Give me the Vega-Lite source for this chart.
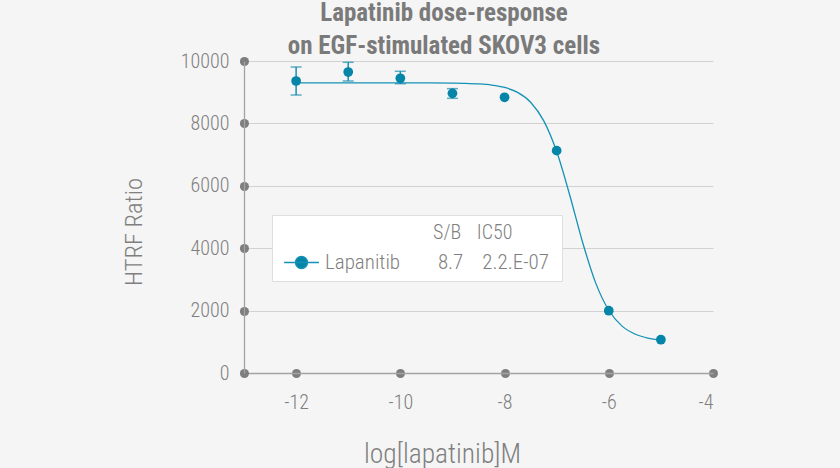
{
  "$schema": "https://vega.github.io/schema/vega-lite/v6.json",
  "autosize": {"type": "none"},
  "padding": {"left": 244, "top": 61, "right": 127, "bottom": 95},
  "width": 469,
  "height": 312,
  "background": "#f5f5f5",
  "config": {
    "view": {"stroke": null},
    "font": "Roboto Condensed",
    "axis": {
      "labelFont": "Roboto Condensed",
      "labelFontSize": 20,
      "labelFontWeight": 300,
      "labelColor": "#7f7f7f",
      "titleFont": "Roboto Condensed",
      "titleFontSize": 20,
      "titleFontWeight": 300,
      "titleColor": "#7f7f7f",
      "domainColor": "#a3a3a3",
      "domainWidth": 1.3,
      "tickColor": "#7e7e80",
      "tickWidth": 9,
      "tickSize": 0.1,
      "tickCap": "round",
      "gridColor": "#d2d2d2",
      "gridWidth": 1
    }
  },
  "title": {
    "text": ["Lapatinib dose-response", "on EGF-stimulated SKOV3 cells"],
    "anchor": "middle",
    "dx": -34.5,
    "font": "Roboto Condensed",
    "fontSize": 25,
    "fontWeight": "bold",
    "color": "#7a7a7a",
    "lineHeight": 33.5,
    "baseline": "bottom",
    "offset": -33
  },
  "datasets": {
    "curve": [
      {"x": -12, "y": 9300}, {"x": -11, "y": 9300}, {"x": -10, "y": 9300},
      {"x": -9.5, "y": 9298}, {"x": -9, "y": 9292}, {"x": -8.75, "y": 9284},
      {"x": -8.5, "y": 9266}, {"x": -8.25, "y": 9229}, {"x": -8, "y": 9152},
      {"x": -7.75, "y": 8994}, {"x": -7.5, "y": 8679}, {"x": -7.25, "y": 8088},
      {"x": -7, "y": 7097}, {"x": -6.75, "y": 5706}, {"x": -6.5, "y": 4175},
      {"x": -6.25, "y": 2881}, {"x": -6, "y": 2011}, {"x": -5.75, "y": 1511},
      {"x": -5.5, "y": 1250}, {"x": -5.25, "y": 1120}, {"x": -5, "y": 1057}
    ],
    "points": [
      {"x": -12, "y": 9359, "lo": 8910, "hi": 9808, "series": "Lapanitib"},
      {"x": -11, "y": 9647, "lo": 9359, "hi": 9958, "series": "Lapanitib"},
      {"x": -10, "y": 9445, "lo": 9272, "hi": 9670, "series": "Lapanitib"},
      {"x": -9, "y": 8964, "lo": 8804, "hi": 9114, "series": "Lapanitib"},
      {"x": -8, "y": 8837, "series": "Lapanitib"},
      {"x": -7, "y": 7126, "series": "Lapanitib"},
      {"x": -6, "y": 1997, "series": "Lapanitib"},
      {"x": -5, "y": 1067, "series": "Lapanitib"}
    ]
  },
  "encoding": {
    "x": {
      "field": "x", "type": "quantitative",
      "scale": {"domain": [-13, -4], "nice": false, "zero": false},
      "axis": {
        "values": [-12, -10, -8, -6, -4],
        "labelExpr": "'' + datum.value",
        "labelPadding": 19,
        "grid": false,
        "title": "log[lapatinib]M",
        "titleFontSize": 27.5,
        "titleX": 198,
        "titleY": 67,
        "titleAlign": "center",
        "titleBaseline": "top"
      }
    },
    "y": {
      "field": "y", "type": "quantitative",
      "scale": {"domain": [0, 10000], "nice": false},
      "axis": {
        "values": [0, 2000, 4000, 6000, 8000, 10000],
        "format": "d",
        "labelPadding": 15,
        "grid": true,
        "title": "HTRF Ratio",
        "titleFontSize": 24.5,
        "titleX": -110,
        "titleY": 170.5,
        "titleAngle": -90,
        "titleAlign": "center",
        "titleBaseline": "middle"
      }
    }
  },
  "layer": [
    {
      "data": {"name": "curve"},
      "mark": {"type": "line", "interpolate": "monotone", "color": "#1591b5", "strokeWidth": 1.3}
    },
    {
      "data": {"name": "points"},
      "transform": [{"filter": "isValid(datum.lo)"}],
      "mark": {"type": "rule", "color": "#1a8fb0", "strokeWidth": 1.5},
      "encoding": {"y": {"field": "lo", "type": "quantitative"}, "y2": {"field": "hi"}}
    },
    {
      "data": {"name": "points"},
      "transform": [{"filter": "isValid(datum.lo)"}],
      "mark": {"type": "tick", "orient": "horizontal", "color": "#1a8fb0", "size": 11, "thickness": 1.5},
      "encoding": {"y": {"field": "lo", "type": "quantitative"}}
    },
    {
      "data": {"name": "points"},
      "transform": [{"filter": "isValid(datum.hi)"}],
      "mark": {"type": "tick", "orient": "horizontal", "color": "#1a8fb0", "size": 11, "thickness": 1.5},
      "encoding": {"y": {"field": "hi", "type": "quantitative"}}
    },
    {
      "data": {"name": "points"},
      "mark": {"type": "point", "filled": true, "opacity": 1, "size": 95},
      "encoding": {
        "color": {
          "field": "series", "type": "nominal",
          "scale": {"range": ["#0585a7"]},
          "legend": {
            "orient": "none",
            "legendX": 28,
            "legendY": 154,
            "padding": 8,
            "fillColor": "white",
            "strokeColor": "#dedede",
            "title": "\u200b\u00a0\u00a0\u00a0\u00a0\u00a0\u00a0\u00a0\u00a0\u00a0\u00a0\u00a0\u00a0\u00a0\u00a0\u00a0\u00a0\u00a0\u00a0\u00a0\u00a0\u00a0\u00a0\u00a0\u00a0\u00a0\u00a0\u00a0\u00a0\u00a0\u00a0\u00a0\u00a0\u00a0\u00a0S/B\u00a0\u00a0\u00a0\u200aIC50",
            "titleFont": "Roboto Condensed",
            "titleFontSize": 20,
            "titleFontWeight": 300,
            "titleColor": "#7f7f7f",
            "titleLimit": 500,
            "titlePadding": 9,
            "labelExpr": "'Lapanitib\u00a0\u00a0\u00a0\u00a0\u00a0\u00a0\u00a0\u00a08.7\u00a0\u00a0\u00a0\u00a02.2.E-07\u00a0\u200b'",
            "labelFont": "Roboto Condensed",
            "labelFontSize": 21,
            "labelFontWeight": 300,
            "labelColor": "#7f7f7f",
            "labelLimit": 500,
            "symbolType": "M-2.9,0H2.9M1,0A1,1,0,1,1,-1,0A1,1,0,1,1,1,0Z",
            "symbolSize": 144,
            "symbolOffset": 11,
            "symbolFillColor": "#0585a7",
            "symbolStrokeColor": "#1591b5",
            "symbolStrokeWidth": 1.4,
            "labelOffset": 13
          }
        }
      }
    }
  ]
}
